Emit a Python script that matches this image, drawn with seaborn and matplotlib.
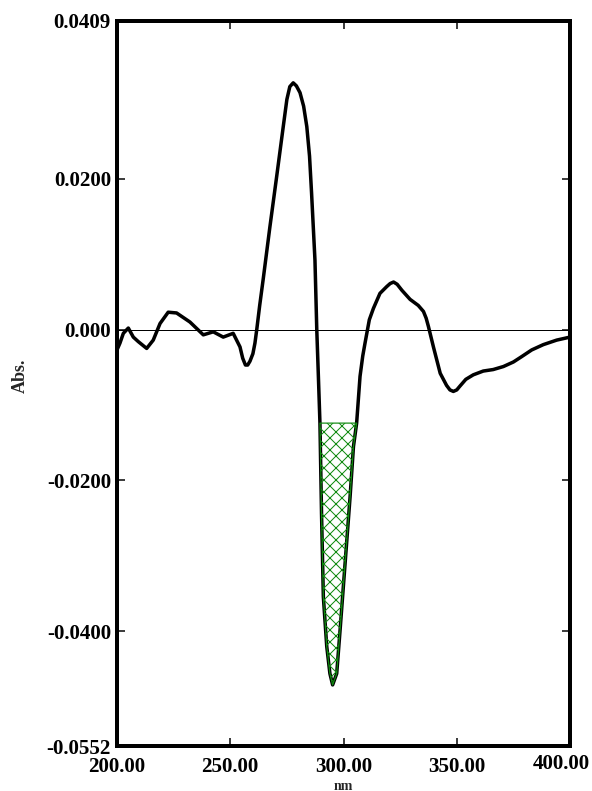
import seaborn as sns
import pandas as pd
import matplotlib.pyplot as plt
from matplotlib.transforms import ScaledTranslation

# spectrum (nm, Abs.)
wavelength = [200.0, 201.3, 202.8, 205.0, 207.2, 209.4, 213.1, 216.0, 219.0, 222.6,
              226.3, 232.2, 238.1, 242.5, 246.9, 251.3, 254.3, 255.5, 256.7, 257.7,
              258.7, 260.0, 260.9, 261.7, 263.0, 264.6, 267.5, 270.5, 273.4, 275.0,
              276.3, 277.8, 279.2, 280.8, 282.4, 283.8, 285.0, 285.9, 287.4, 288.2,
              289.0, 289.6, 290.3, 291.1, 292.6, 294.0, 295.2, 297.0, 298.5, 300.7,
              302.9, 304.4, 305.8, 307.3, 308.5, 309.5, 311.4, 313.2, 316.1, 319.1,
              320.6, 322.1, 323.7, 325.8, 329.4, 333.0, 335.3, 336.5, 337.5, 339.7,
              342.7, 345.5, 347.0, 348.5, 350.0, 351.4, 354.0, 357.3, 361.7, 366.1,
              370.6, 375.0, 378.6, 383.1, 388.2, 394.1, 400.0]
absorbance = [-0.0027, -0.0018, -0.0005, 0.0002, -0.0010, -0.0016, -0.0025, -0.0014, 0.0008, 0.0023,
              0.0022, 0.0010, -0.0007, -0.0003, -0.0010, -0.0005, -0.0023, -0.0038, -0.0047, -0.0047,
              -0.0042, -0.0032, -0.0018, 0.0000, 0.0032, 0.0068, 0.0136, 0.0203, 0.0269, 0.0305,
              0.0322, 0.0327, 0.0323, 0.0314, 0.0296, 0.0269, 0.0230, 0.0181, 0.0092, 0.0000,
              -0.0070, -0.0124, -0.0244, -0.0354, -0.0420, -0.0456, -0.0471, -0.0456, -0.0398, -0.0310,
              -0.0222, -0.0155, -0.0124, -0.0062, -0.0035, -0.0018, 0.0013, 0.0028, 0.0048, 0.0057,
              0.0061, 0.0063, 0.0060, 0.0052, 0.0040, 0.0032, 0.0024, 0.0015, 0.0004, -0.0023,
              -0.0058, -0.0074, -0.0080, -0.0082, -0.0080, -0.0075, -0.0066, -0.0060, -0.0055, -0.0053,
              -0.0049, -0.0043, -0.0036, -0.0027, -0.0020, -0.0014, -0.0010]

# hatched peak area
area_start, area_end = 289.6, 305.8
area_base = -0.0124

x_ticks = [200, 250, 300, 350, 400]
x_labels = ["200.00", "250.00", "300.00", "350.00", "400.00"]
y_ticks = [0.0409, 0.0200, 0.0, -0.0200, -0.0400, -0.0552]
y_labels = ["0.0409", "0.0200", "0.000", "-0.0200", "-0.0400", "-0.0552"]

sns.set_style("ticks")
plt.rcParams["font.family"] = ["Liberation Serif", "DejaVu Serif"]
plt.rcParams["font.weight"] = "bold"
plt.rcParams["hatch.linewidth"] = 1.0

df = pd.DataFrame({"nm": wavelength, "abs": absorbance})

fig = plt.figure(figsize=(592 / 72, 791 / 72), dpi=72)
ax = fig.add_axes([117 / 592, 1 - 746 / 791, 453 / 592, 725 / 791])

sns.lineplot(data=df, x="nm", y="abs", ax=ax, color="black", linewidth=3.5,
             estimator=None, zorder=2)
ax.axhline(0, color="black", linewidth=1, zorder=1)

mask = (df["nm"] >= area_start) & (df["nm"] <= area_end)
ax.fill_between(df["nm"], df["abs"], area_base, where=mask, facecolor="none",
                edgecolor="#108a10", hatch="xx", linewidth=1.2, zorder=3)

ax.set_xlim(200, 400)
ax.set_ylim(-0.0552, 0.0409)
ax.set_xticks(x_ticks, x_labels)
ax.set_yticks(y_ticks, y_labels)
ax.tick_params(direction="in", length=8, width=1.5, top=True, right=True,
               labelsize=21, colors="black")
ax.tick_params(axis="x", pad=11)
ax.tick_params(axis="y", pad=6)
for s in ax.spines.values():
    s.set_linewidth(4)
    s.set_color("black")

# last x label sits a bit left and up, as in the original
last = ax.get_xticklabels()[-1]
last.set_transform(last.get_transform() + ScaledTranslation(-9 / 72, 3 / 72, fig.dpi_scale_trans))

ax.set_xlabel("")
ax.set_ylabel("")
fig.text(20 / 592, 1 - 376 / 791, "Abs.", rotation=90, fontsize=18,
         fontweight="bold", ha="center", va="center")
fig.text(343.5 / 592, 1 - 790 / 791, "nm", fontsize=14, fontweight="bold",
         ha="center", va="baseline")

plt.savefig("out.png", dpi=72)
